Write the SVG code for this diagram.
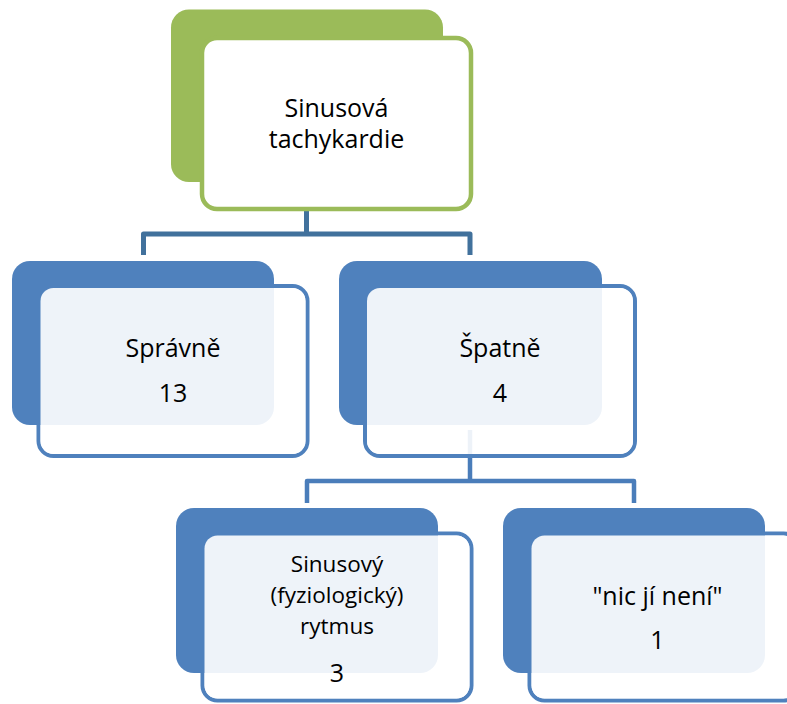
<svg xmlns="http://www.w3.org/2000/svg" width="787" height="704" viewBox="0 0 787 704">
<style>
.t{font-family:"Open Sans","Noto Sans","Liberation Sans",sans-serif;font-size:25px;fill:#000;text-anchor:middle}
.s{font-size:22.5px}
.bk{fill:#4F81BD}
.fo{fill:none;stroke:#4F81BD;stroke-width:4}
.fi{fill:#fff;fill-opacity:0.9}
.c1{fill:none;stroke:#41719C;stroke-width:5;stroke-linejoin:round}
.c2{fill:none;stroke:#4A7DBA;stroke-width:4.5;stroke-linejoin:round}
</style>
<rect width="787" height="704" fill="#fff"/>
<g id="connectors">
<path class="c1" d="M306.5 182 V234 H143.5 V255 M306.5 234 H470 V255"/>
<path class="c2" d="M470 430 V481 H307 V503 M470 481 H634 V503"/>
</g>
<g id="node-top">
<rect x="171" y="9.5" width="272" height="172.5" rx="18" fill="#9BBB59"/>
<rect x="202" y="38" width="269" height="171" rx="15" fill="#fff" stroke="#9BBB59" stroke-width="4.5"/>
<text class="t" x="336.5" y="117">Sinusová</text>
<text class="t" x="336.5" y="148">tachykardie</text>
</g>
<g id="node-spravne">
<rect class="fo" x="38.5" y="286" width="269" height="170" rx="15"/>
<rect class="bk" x="12" y="261" width="262" height="164" rx="18"/>
<rect class="fi" x="40.5" y="288" width="265" height="166" rx="13"/>
<text class="t" x="173" y="357">Správně</text>
<text class="t" x="173" y="402">13</text>
</g>
<g id="node-spatne">
<rect class="fo" x="365" y="286" width="270" height="170" rx="15"/>
<rect class="bk" x="339" y="261" width="263" height="164" rx="18"/>
<rect class="fi" x="367" y="288" width="266" height="166" rx="13"/>
<text class="t" x="500" y="357">Špatně</text>
<text class="t" x="500" y="402">4</text>
</g>
<g id="node-sinusovy">
<rect class="fo" x="202.5" y="533.5" width="269" height="167" rx="15"/>
<rect class="bk" x="176" y="508" width="262" height="165" rx="18"/>
<rect class="fi" x="204.5" y="535.5" width="265" height="163" rx="13"/>
<text class="t s" x="337" y="572">Sinusový</text>
<text class="t s" x="337" y="603">(fyziologický)</text>
<text class="t s" x="337" y="634">rytmus</text>
<text class="t" x="337" y="682">3</text>
</g>
<g id="node-nic">
<rect class="fo" x="529.5" y="533.5" width="269" height="167" rx="15"/>
<rect class="bk" x="503" y="508" width="262" height="165" rx="18"/>
<rect class="fi" x="531.5" y="535.5" width="265" height="163" rx="13"/>
<text class="t" x="657.5" y="605">"nic jí není"</text>
<text class="t" x="657.5" y="649">1</text>
</g>
</svg>
